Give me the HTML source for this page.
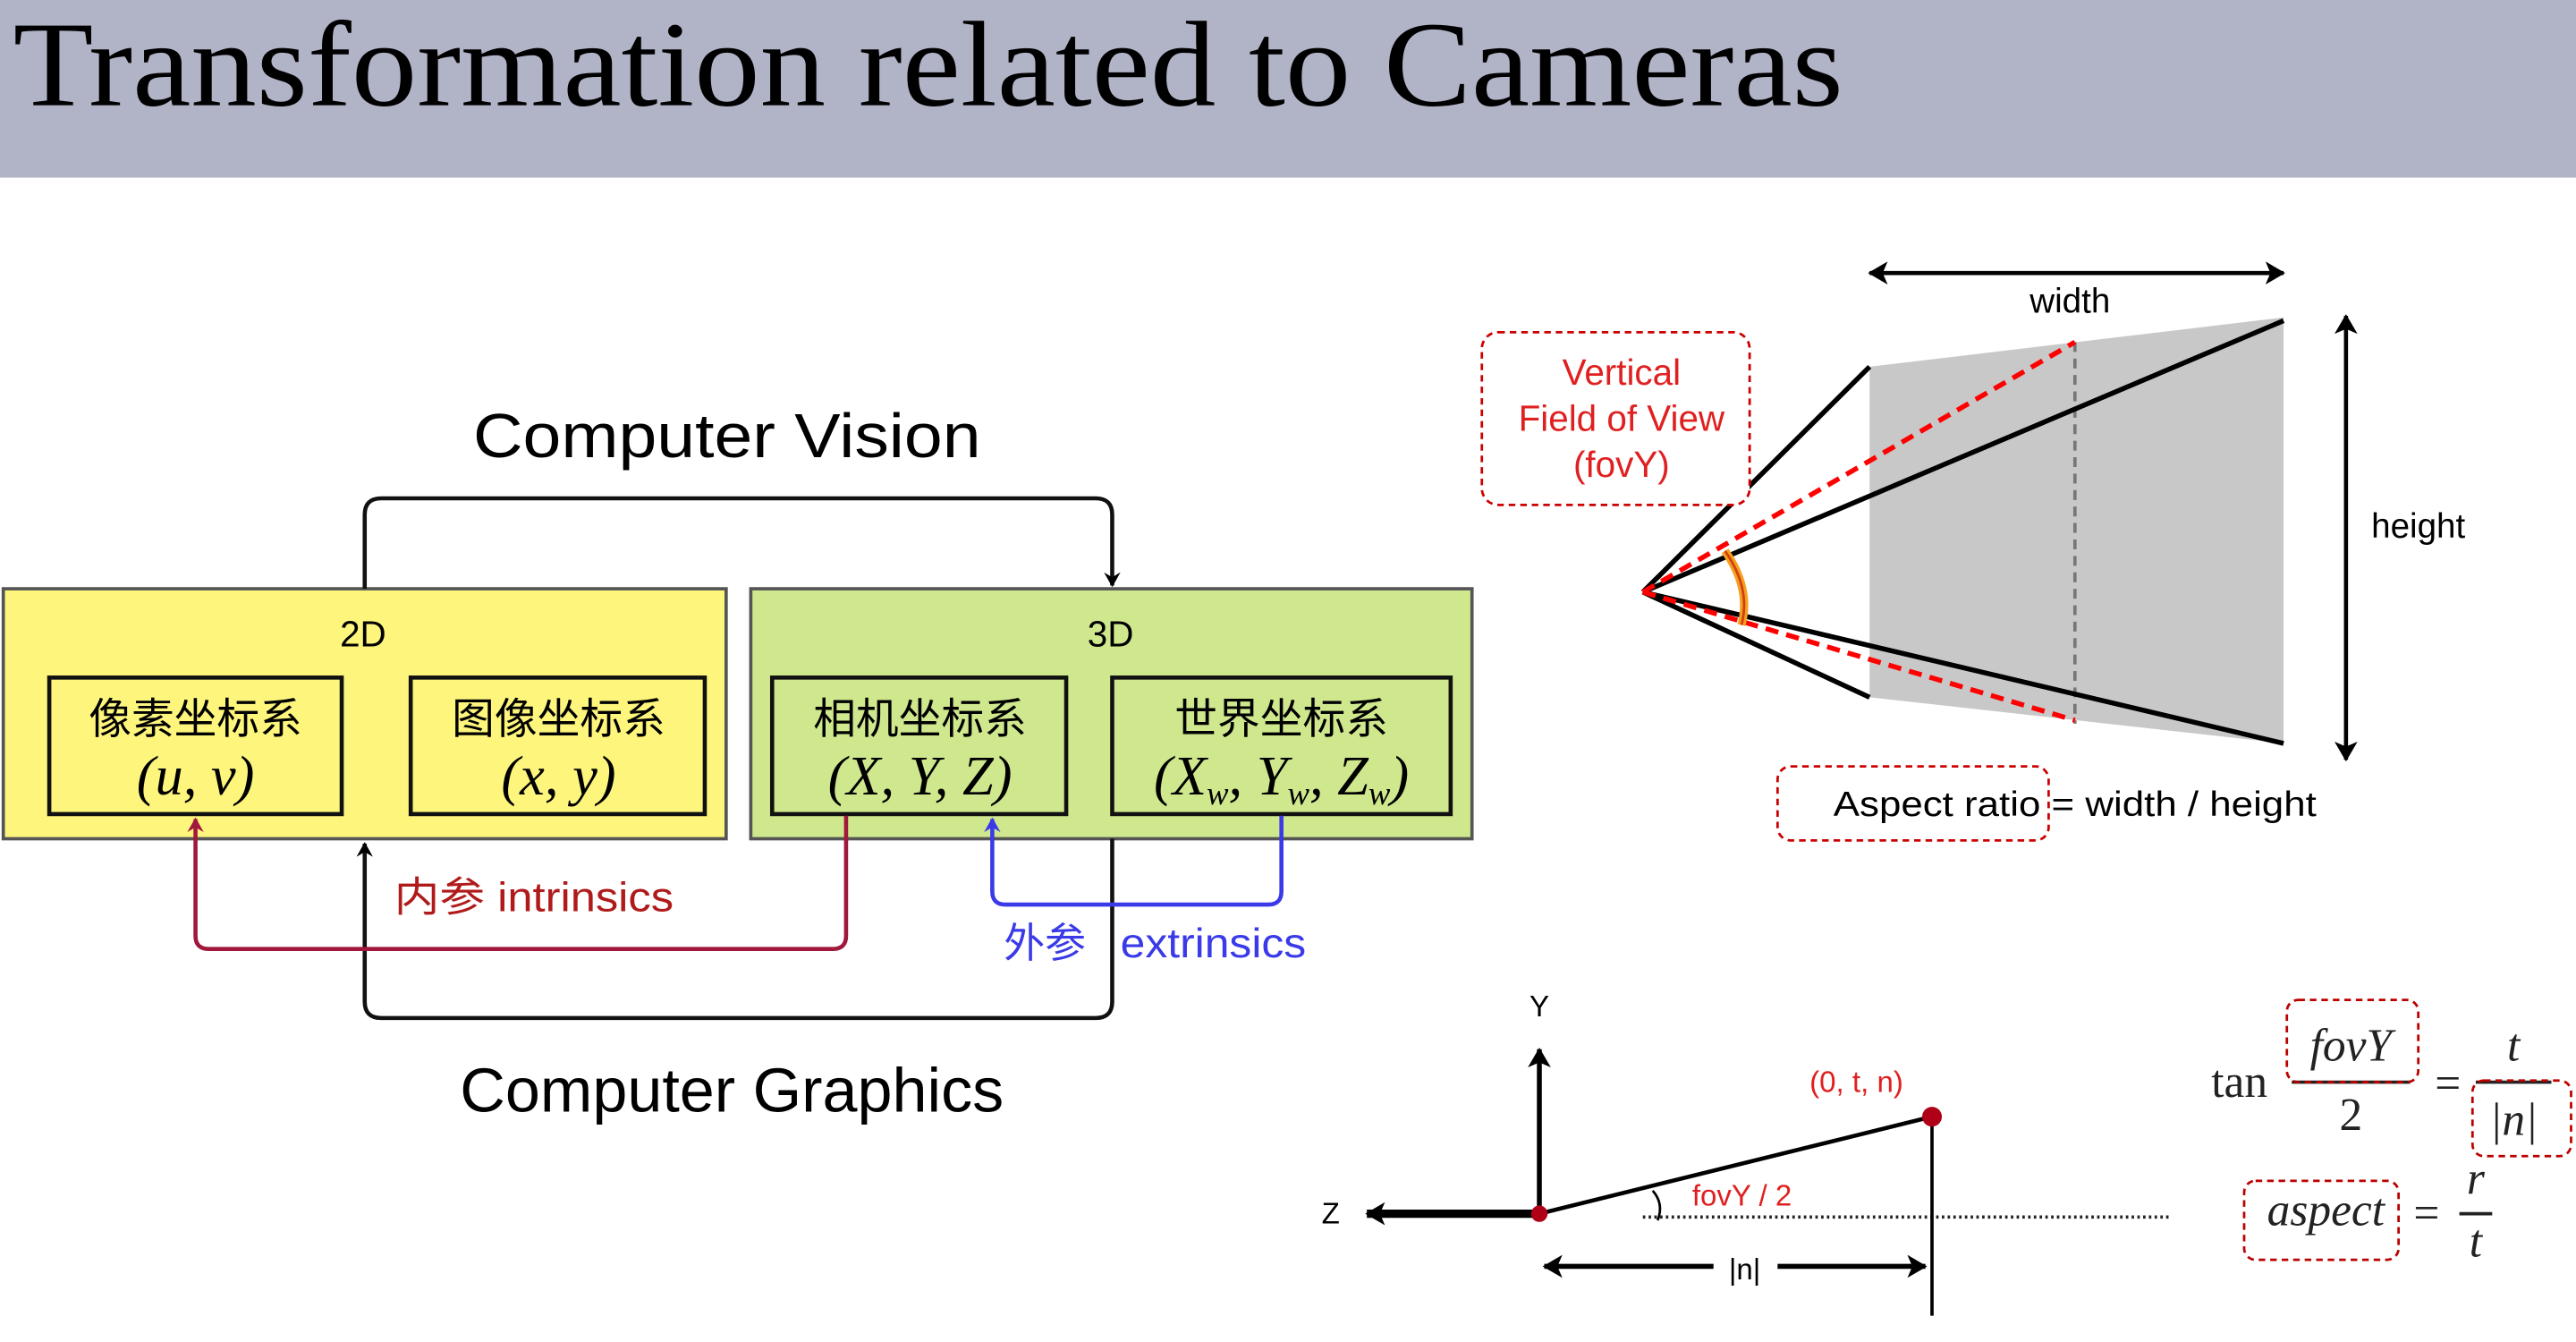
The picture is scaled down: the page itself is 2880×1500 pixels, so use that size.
<!DOCTYPE html>
<html><head><meta charset="utf-8"><style>html,body{margin:0;padding:0;background:#fff}svg{display:block}</style></head><body>
<svg width="2880" height="1500" viewBox="0 0 1568 816" preserveAspectRatio="none" xmlns="http://www.w3.org/2000/svg">
<defs>
<marker id="ab" markerWidth="10" markerHeight="10" refX="8" refY="5" orient="auto" markerUnits="userSpaceOnUse"><path d="M0,0 L9,5 L0,10 L3,5z" fill="#000"/></marker>
<marker id="ar" markerWidth="10" markerHeight="10" refX="8" refY="5" orient="auto" markerUnits="userSpaceOnUse"><path d="M0,0 L9,5 L0,10 L3,5z" fill="#a0183c"/></marker>
<marker id="au" markerWidth="10" markerHeight="10" refX="8" refY="5" orient="auto" markerUnits="userSpaceOnUse"><path d="M0,0 L9,5 L0,10 L3,5z" fill="#3a3ae8"/></marker>
<marker id="a2" markerWidth="14" markerHeight="14" refX="11" refY="7" orient="auto-start-reverse" markerUnits="userSpaceOnUse"><path d="M0,0 L12,7 L0,14 L3,7z" fill="#000"/></marker>
</defs>
<rect x="0" y="0" width="1568" height="108" fill="#b1b3c7"/>
<text x="8" y="64" font-family="Liberation Serif, serif" font-size="74" fill="#000" textLength="1114" lengthAdjust="spacingAndGlyphs">Transformation related to Cameras</text>

<g font-family="Liberation Sans, sans-serif">
<text x="288" y="278" font-size="38" textLength="309" lengthAdjust="spacingAndGlyphs">Computer Vision</text>
<text x="280" y="676" font-size="38" textLength="331" lengthAdjust="spacingAndGlyphs">Computer Graphics</text>
<rect x="2" y="358" width="440" height="152" fill="#fdf57c" stroke="#555" stroke-width="2"/>
<rect x="457" y="358" width="439" height="152" fill="#cfe88e" stroke="#555" stroke-width="2"/>
<text x="221" y="393" font-size="22" text-anchor="middle">2D</text>
<text x="676" y="393" font-size="22" text-anchor="middle">3D</text>
<g fill="none" stroke="#111" stroke-width="2.5">
<rect x="30" y="412" width="178" height="83"/><rect x="250" y="412" width="179" height="83"/>
<rect x="470" y="412" width="179" height="83"/><rect x="677" y="412" width="206" height="83"/>
</g>
<g font-family="Liberation Sans, Noto Sans CJK SC, sans-serif" font-size="26" text-anchor="middle">
<text x="119" y="446">像素坐标系</text><text x="340" y="446">图像坐标系</text>
<text x="560" y="446">相机坐标系</text><text x="780" y="446">世界坐标系</text>
</g>
<g font-family="Liberation Serif, serif" font-size="34" text-anchor="middle" font-style="italic">
<text x="119" y="483">(u, v)</text><text x="340" y="483">(x, y)</text>
<text x="560" y="483">(X, Y, Z)</text><text x="780" y="483">(X<tspan font-size="20" dy="6">w</tspan><tspan dy="-6">, Y</tspan><tspan font-size="20" dy="6">w</tspan><tspan dy="-6">, Z</tspan><tspan font-size="20" dy="6">w</tspan><tspan dy="-6">)</tspan></text>
</g>
<path d="M222,358 V313 Q222,303 232,303 H667 Q677,303 677,313 V356" fill="none" stroke="#111" stroke-width="2.5" marker-end="url(#ab)"/>
<path d="M677,510 V609 Q677,619 667,619 H232 Q222,619 222,609 V513" fill="none" stroke="#111" stroke-width="2.5" marker-end="url(#ab)"/>
<path d="M515,496 V569 Q515,577 507,577 H127 Q119,577 119,569 V498" fill="none" stroke="#a0183c" stroke-width="2.5" marker-end="url(#ar)"/>
<path d="M780,496 V542 Q780,550 772,550 H612 Q604,550 604,542 V498" fill="none" stroke="#3a3ae8" stroke-width="2.5" marker-end="url(#au)"/>
<text x="240" y="554" font-size="25" fill="#b01a1a" font-family="Liberation Sans, Noto Sans CJK SC, sans-serif" textLength="170" lengthAdjust="spacingAndGlyphs">内参 intrinsics</text>
<text x="611" y="582" font-size="25" fill="#3a3ae8" font-family="Liberation Sans, Noto Sans CJK SC, sans-serif">外参</text>
<text x="682" y="582" font-size="25" fill="#3a3ae8" textLength="113" lengthAdjust="spacingAndGlyphs">extrinsics</text>

<!-- frustum -->
<polygon points="1138,223 1390,193 1390,452 1138,424" fill="#c8c8c8"/>
<line x1="1263" y1="208" x2="1263" y2="440" stroke="#777" stroke-width="2" stroke-dasharray="6,4"/>
<g stroke="#000" stroke-width="3">
<line x1="1000" y1="360" x2="1138" y2="223"/><line x1="1000" y1="360" x2="1390" y2="195"/>
<line x1="1000" y1="360" x2="1138" y2="424"/><line x1="1000" y1="360" x2="1390" y2="452"/>
</g>
<g stroke="#f00" stroke-width="3" stroke-dasharray="8,5">
<line x1="1000" y1="360" x2="1263" y2="208"/><line x1="1000" y1="360" x2="1263" y2="438"/>
</g>
<path d="M1050,335 Q1066,358 1060,380" fill="none" stroke="#f5a020" stroke-width="5"/>
<path d="M1050,335 Q1066,358 1060,380" fill="none" stroke="#d04010" stroke-width="1.5"/>
<line x1="1138" y1="166" x2="1390" y2="166" stroke="#000" stroke-width="2.5" marker-end="url(#a2)" marker-start="url(#a2)"/>
<line x1="1428" y1="192" x2="1428" y2="462" stroke="#000" stroke-width="2.5" marker-end="url(#a2)" marker-start="url(#a2)"/>
<text x="1260" y="190" font-size="21" text-anchor="middle">width</text>
<text x="1472" y="327" font-size="21" text-anchor="middle">height</text>
<rect x="902" y="202" width="163" height="105" rx="10" fill="#fff" stroke="#c00" stroke-width="1.5" stroke-dasharray="4,3"/>
<g fill="#e02020" font-size="22" text-anchor="middle"><text x="987" y="234">Vertical</text><text x="987" y="262">Field of View</text><text x="987" y="290">(fovY)</text></g>
<rect x="1082" y="466" width="165" height="45" rx="8" fill="none" stroke="#c00" stroke-width="1.5" stroke-dasharray="4,3"/>
<text x="1116" y="496" font-size="21" textLength="294" lengthAdjust="spacingAndGlyphs">Aspect ratio = width / height</text>

<!-- bottom diagram -->
<line x1="1000" y1="740" x2="1322" y2="740" stroke="#222" stroke-width="2" stroke-dasharray="1.5,2"/>
<line x1="937" y1="738" x2="937" y2="638" stroke="#000" stroke-width="3" marker-end="url(#a2)"/>
<line x1="937" y1="738" x2="832" y2="738" stroke="#000" stroke-width="5" marker-end="url(#a2)"/>
<line x1="937" y1="738" x2="1176" y2="679" stroke="#000" stroke-width="2.5"/>
<line x1="1176" y1="679" x2="1176" y2="800" stroke="#000" stroke-width="2"/>
<circle cx="937" cy="738" r="5" fill="#b00018"/>
<circle cx="1176" cy="679" r="6" fill="#b00018"/>
<path d="M1006,724 Q1013,732 1009,742" fill="none" stroke="#000" stroke-width="1.5"/>
<line x1="1043" y1="770" x2="940" y2="770" stroke="#000" stroke-width="3" marker-end="url(#a2)"/>
<line x1="1082" y1="770" x2="1172" y2="770" stroke="#000" stroke-width="3" marker-end="url(#a2)"/>
<text x="1062" y="778" font-size="18" text-anchor="middle">|n|</text>
<text x="937" y="618" font-size="18" text-anchor="middle">Y</text>
<text x="810" y="744" font-size="18" text-anchor="middle">Z</text>
<text x="1130" y="664" font-size="18" fill="#e02020" text-anchor="middle">(0, t, n)</text>
<text x="1030" y="733" font-size="18" fill="#e02020">fovY / 2</text>
</g>
<g font-family="Liberation Serif, serif" font-size="28" fill="#222">
<text x="1346" y="667">tan</text>
<text x="1431" y="645" text-anchor="middle" font-style="italic">fovY</text>
<line x1="1395" y1="658" x2="1467" y2="658" stroke="#222" stroke-width="2"/>
<text x="1431" y="687" text-anchor="middle">2</text>
<text x="1490" y="668" text-anchor="middle">=</text>
<text x="1530" y="645" text-anchor="middle" font-style="italic">t</text>
<line x1="1507" y1="658" x2="1553" y2="658" stroke="#222" stroke-width="2"/>
<text x="1530" y="690" text-anchor="middle" font-style="italic">|n|</text>
<text x="1380" y="745" font-style="italic">aspect</text>
<text x="1477" y="747" text-anchor="middle">=</text>
<text x="1507" y="726" text-anchor="middle" font-style="italic">r</text>
<line x1="1497" y1="738" x2="1517" y2="738" stroke="#222" stroke-width="2"/>
<text x="1507" y="764" text-anchor="middle" font-style="italic">t</text>
</g>
<g fill="none" stroke="#b00" stroke-width="1.5" stroke-dasharray="4,3">
<rect x="1392" y="608" width="80" height="50" rx="7"/>
<rect x="1505" y="657" width="60" height="46" rx="7"/>
<rect x="1366" y="718" width="94" height="48" rx="7"/>
</g>
</svg>
</body></html>
